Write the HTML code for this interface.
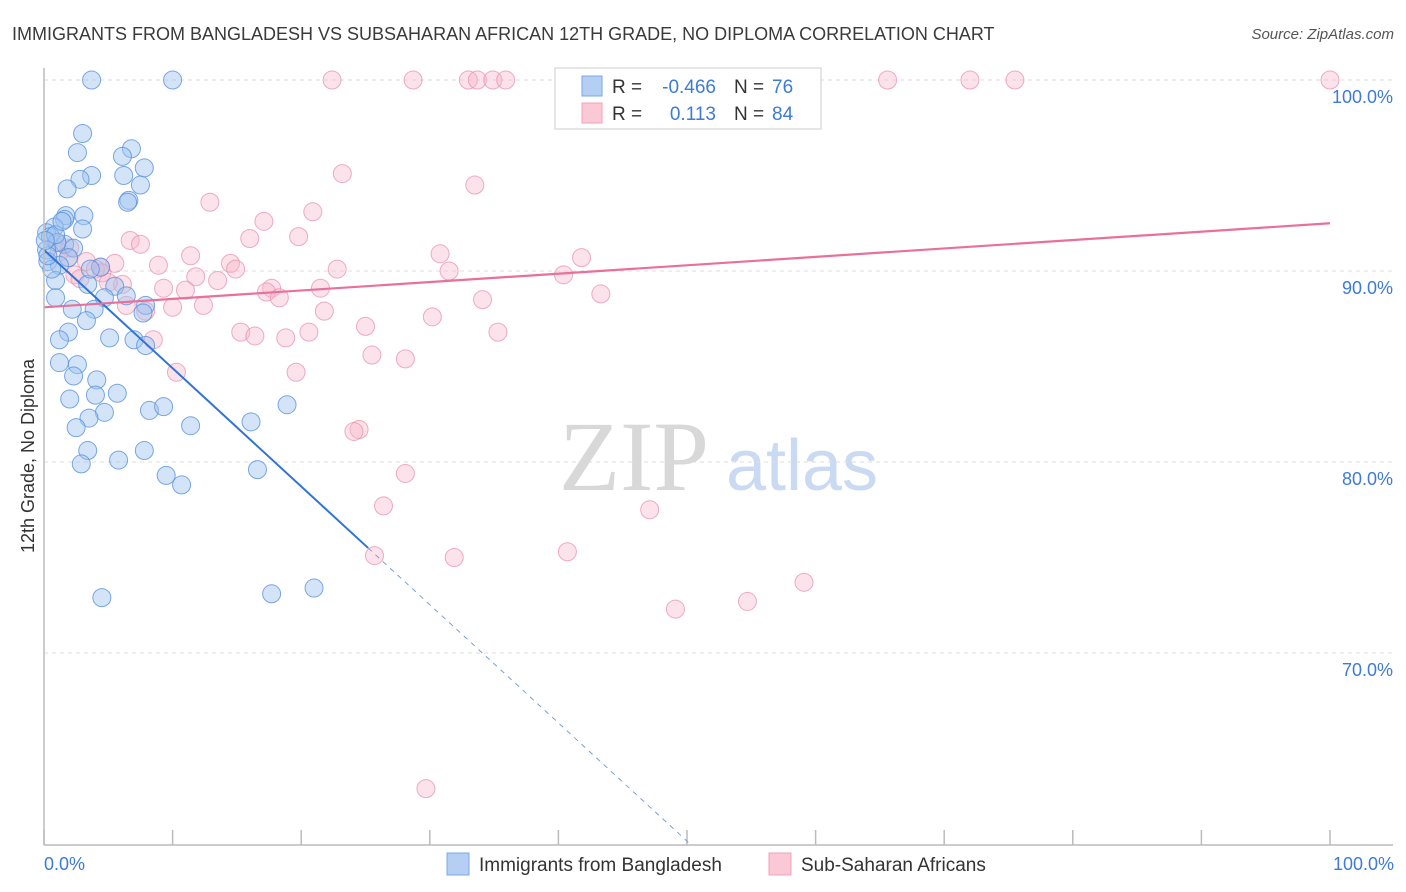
<!DOCTYPE html>
<html><head><meta charset="utf-8"><style>
body{margin:0;background:#fff;font-family:"Liberation Sans",sans-serif;}
#wrap{position:relative;width:1406px;height:892px;overflow:hidden;}
</style></head><body>
<div id="wrap">
<svg id="svg" width="1406" height="892" xmlns="http://www.w3.org/2000/svg">
<text x="12" y="40" font-size="18" fill="#3a3a3a">IMMIGRANTS FROM BANGLADESH VS SUBSAHARAN AFRICAN 12TH GRADE, NO DIPLOMA CORRELATION CHART</text>
<text x="1394" y="39" font-size="15" fill="#555" font-style="italic" text-anchor="end">Source: ZipAtlas.com</text>
<text x="634" y="490" font-size="100" fill="#d8d8d8" font-family="Liberation Serif,serif" text-anchor="middle">ZIP</text>
<text x="802" y="490" font-size="72" fill="#c9daf2" text-anchor="middle">atlas</text>
<text transform="translate(34,456) rotate(-90)" font-size="18" fill="#333" text-anchor="middle">12th Grade, No Diploma</text>
<g id="grid"></g><g id="pts"></g><g id="lines"></g>
<line x1="44" y1="68" x2="44" y2="845" stroke="#bbb" stroke-width="1.5"/>
<line x1="44" y1="845" x2="1393" y2="845" stroke="#bbb" stroke-width="1.5"/>
<text x="44" y="870" font-size="18" fill="#3d7bd6">0.0%</text>
<text x="1394" y="870" font-size="18" fill="#3d7bd6" text-anchor="end">100.0%</text>
<g>
<rect x="555" y="68" width="266" height="61" fill="#fff" stroke="#ddd" stroke-width="1.5"/>
<rect x="582" y="76" width="20" height="20" fill="#b5cef3" stroke="#7aa8e6"/>
<rect x="582" y="103" width="20" height="20" fill="#fbc8d6" stroke="#f0a0b8"/>
<text x="612" y="93" font-size="19" fill="#333">R =</text>
<text x="716" y="93" font-size="19" fill="#3d7bd6" text-anchor="end">-0.466</text>
<text x="734" y="93" font-size="19" fill="#333">N =</text>
<text x="772" y="93" font-size="19" fill="#3d7bd6">76</text>
<text x="612" y="120" font-size="19" fill="#333">R =</text>
<text x="716" y="120" font-size="19" fill="#3d7bd6" text-anchor="end">0.113</text>
<text x="734" y="120" font-size="19" fill="#333">N =</text>
<text x="772" y="120" font-size="19" fill="#3d7bd6">84</text>
</g>
<g>
<rect x="447" y="853" width="22" height="22" fill="#b5cef3" stroke="#7aa8e6"/>
<text x="479" y="871" font-size="19" fill="#333">Immigrants from Bangladesh</text></g>
<g>
<rect x="769" y="853" width="22" height="22" fill="#fbc8d6" stroke="#f0a0b8"/>
<text x="801" y="871" font-size="19" fill="#333">Sub-Saharan Africans</text></g>
</svg>
</div>
<script>
const yTicks=[100,90,80,70];
const yTickLabels=["100.0%","90.0%","80.0%","70.0%"];
const xTicks=[0,10,20,30,40,50,60,70,80,90,100];
const blueX=[3.7,10.0,3.0,2.6,6.8,6.1,7.8,3.7,2.8,6.2,1.8,7.5,6.6,6.5,1.7,3.1,1.6,0.8,0.2,3.0,0.5,1.6,2.3,1.0,0.2,0.3,1.9,1.2,4.4,0.9,3.4,5.5,0.9,4.7,6.4,2.2,3.9,7.9,7.7,3.3,1.9,1.2,5.1,7.0,7.9,1.2,2.6,2.3,4.1,5.7,2.0,4.0,4.7,8.2,9.3,3.5,2.5,11.4,16.1,18.9,3.4,7.8,5.8,2.9,9.5,10.7,16.6,4.5,17.7,21.0,0.9,1.4,0.6,0.3,3.6,0.1];
const blueY=[100,100,97.2,96.2,96.4,96.0,95.4,95.0,94.8,95.0,94.3,94.5,93.7,93.6,92.9,92.9,92.7,92.3,92.0,92.2,91.8,91.4,91.2,91.5,91.1,90.5,90.7,90.3,90.2,89.5,89.3,89.2,88.6,88.6,88.7,88.0,88.0,88.2,87.8,87.4,86.8,86.4,86.5,86.4,86.1,85.2,85.1,84.5,84.3,83.6,83.3,83.5,82.6,82.7,82.9,82.3,81.8,81.9,82.1,83.0,80.6,80.6,80.1,79.9,79.3,78.8,79.6,72.9,73.1,73.4,91.9,92.6,90.1,90.8,90.1,91.6];
const pinkX=[22.4,28.7,33.0,33.7,34.9,35.9,46.2,52.3,65.6,72.0,75.5,100,23.2,33.5,12.9,20.9,17.1,16.0,6.7,7.5,19.8,1.0,2.0,30.8,41.8,11.4,3.3,5.5,8.9,14.5,14.9,22.8,31.5,40.4,4.4,2.4,11.8,13.5,2.8,6.1,17.7,17.3,9.3,11.0,21.5,18.3,43.3,34.1,6.4,10.0,12.4,7.9,21.8,30.2,25.0,15.3,16.4,20.6,18.8,35.3,8.5,25.5,28.1,10.3,19.6,24.5,24.1,28.1,26.4,47.1,25.7,31.9,40.7,59.1,54.7,49.1,29.7,1.2,1.9,4.0,4.5,5.0];
const pinkY=[100,100,100,100,100,100,100,100,100,100,100,100,95.1,94.5,93.6,93.1,92.6,91.7,91.6,91.4,91.8,91.5,91.2,90.9,90.7,90.8,90.5,90.4,90.3,90.4,90.1,90.1,90.0,89.8,90.2,89.8,89.7,89.5,89.6,89.3,89.1,88.9,89.1,89.0,89.1,88.6,88.8,88.5,88.2,88.1,88.2,87.9,87.9,87.6,87.1,86.8,86.6,86.8,86.5,86.8,86.4,85.6,85.4,84.7,84.7,81.7,81.6,79.4,77.7,77.5,75.1,75.0,75.3,73.7,72.7,72.3,62.9,91.0,90.7,90.1,89.9,89.4];
const blueFit=[91.1,-0.619,25.2,50.2]; // intercept, slope, solid end, dashed end
const pinkFit=[88.1,92.5];
const sx=v=>44+v*12.86, sy=v=>80+(100-v)*19.1;
const NS="http://www.w3.org/2000/svg";
function mk(tag,attrs,parent){const e=document.createElementNS(NS,tag);for(const k in attrs)e.setAttribute(k,attrs[k]);parent.appendChild(e);return e;}
const grid=document.getElementById('grid'),pts=document.getElementById('pts'),lines=document.getElementById('lines'),svg=document.getElementById('svg');
yTicks.forEach((t,i)=>{
 const l=mk('line',{x1:44,x2:1393,y1:sy(t),y2:sy(t),stroke:'#ddd','stroke-dasharray':'4,4'},grid);
 
 
 const tx=mk('text',{x:1393,y:sy(t)+23,'font-size':18,fill:'#3d7bd6','text-anchor':'end'},grid);
 tx.textContent=yTickLabels[i];
 
 
});
xTicks.forEach(t=>{
 const l=mk('line',{x1:sx(t),x2:sx(t),y1:830,y2:845,stroke:'#bbb','stroke-width':1.5},grid);
 
 
});
pinkX.forEach((x,i)=>{
 const c=mk('circle',{cx:sx(x),cy:sy(pinkY[i]),r:9,fill:'rgba(248,182,202,0.4)',stroke:'rgba(232,140,170,0.7)','stroke-width':1},pts);
 
 
});
blueX.forEach((x,i)=>{
 const c=mk('circle',{cx:sx(x),cy:sy(blueY[i]),r:9,fill:'rgba(160,196,240,0.45)',stroke:'rgba(80,140,220,0.75)','stroke-width':1},pts);
 
 
});
const by=x=>blueFit[0]+blueFit[1]*x;
let l1=mk('line',{x1:sx(0),y1:sy(by(0)),x2:sx(blueFit[2]),y2:sy(by(blueFit[2])),stroke:'#2f74d6','stroke-width':2},lines);


let l2=mk('line',{x1:sx(blueFit[2]),y1:sy(by(blueFit[2])),x2:sx(blueFit[3]),y2:sy(by(blueFit[3])),stroke:'#7aa0d8','stroke-width':1,'stroke-dasharray':'5,5'},lines);


let l3=mk('line',{x1:sx(0),y1:sy(pinkFit[0]),x2:sx(100),y2:sy(pinkFit[1]),stroke:'#e8709a','stroke-width':2.2},lines);


</script>
</body></html>
